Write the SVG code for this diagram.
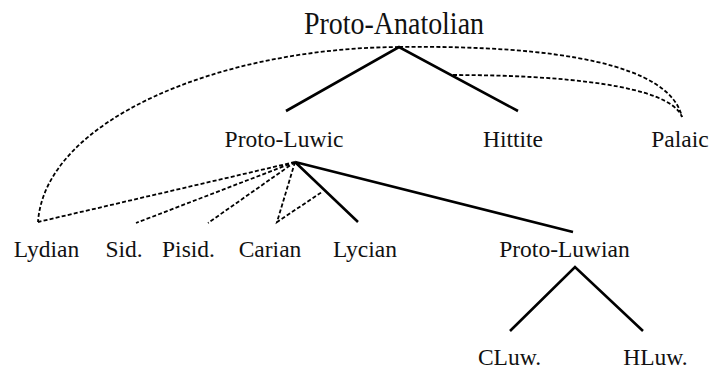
<svg xmlns="http://www.w3.org/2000/svg" width="710" height="369" viewBox="0 0 710 369">
<style>
.t{font-family:'Liberation Serif','Times New Roman',Times,serif;fill:#111;font-size:23.5px;text-anchor:middle}
.s{stroke:#000;stroke-width:2.6;fill:none;stroke-linecap:butt}
.d{stroke:#000;stroke-width:1.8;fill:none;stroke-dasharray:4 2.2}
</style>
<rect width="710" height="369" fill="#fff"/>
<g id="connectors">
<path class="s" d="M286,111 L399,47 L518,111"/>
<path class="d" d="M399,47 C220,48 45,120 38,222"/>
<path class="d" d="M399,47 C560,45 670,65 682,117"/>
<path class="d" d="M453,75 C560,75 670,85 682,117"/>
<path class="d" d="M295,162 L38,222 M295,162 L136,223 M295,162 L208,223 M295,162 L277,222 L322,192"/>
<path class="s" d="M295,162 L358,222 M295,162 L573,232"/>
<path class="s" d="M510,331 L575,267 L643,331"/>
</g>
<g font-family="Liberation Serif, serif">
<g id="proto-anatolian"><text class="t" x="394" y="34" style="font-size:31px" textLength="180" lengthAdjust="spacingAndGlyphs">Proto-Anatolian</text></g>
<g id="proto-luwic"><text class="t" x="284" y="147">Proto-Luwic</text></g>
<g id="hittite"><text class="t" x="513" y="147">Hittite</text></g>
<g id="palaic"><text class="t" x="680" y="147">Palaic</text></g>
<g id="lydian"><text class="t" x="46.5" y="257">Lydian</text></g>
<g id="sid"><text class="t" x="124" y="257">Sid.</text></g>
<g id="pisid"><text class="t" x="188.5" y="257">Pisid.</text></g>
<g id="carian"><text class="t" x="270" y="257">Carian</text></g>
<g id="lycian"><text class="t" x="365" y="257">Lycian</text></g>
<g id="proto-luwian"><text class="t" x="564.5" y="257">Proto-Luwian</text></g>
<g id="cluw"><text class="t" x="509.5" y="365">CLuw.</text></g>
<g id="hluw"><text class="t" x="655.5" y="365">HLuw.</text></g>
</g>
</svg>
